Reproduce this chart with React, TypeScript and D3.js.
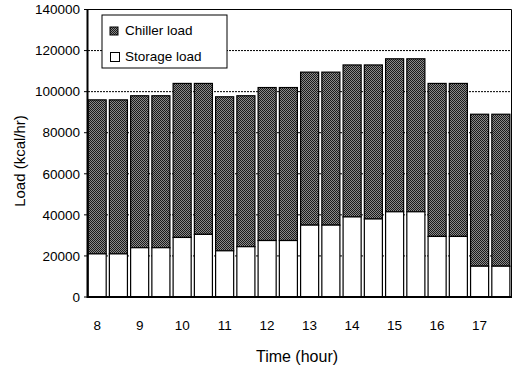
import React from "react";
import * as d3 from "d3";

const hours = ["8", "", "9", "", "10", "", "11", "", "12", "", "13", "", "14", "", "15", "", "16", "", "17", ""];
const totalLoad = [96000, 96000, 98000, 98000, 104000, 104000, 97500, 98000, 102000, 102000, 109500, 109500, 113000, 113000, 116000, 116000, 104000, 104000, 89000, 89000];
const storageLoad = [21000, 21000, 24000, 24000, 29000, 30500, 22500, 24500, 27500, 27500, 35000, 35000, 39000, 38000, 41500, 41500, 29500, 29500, 15000, 15000];
const yTicks = [0, 20000, 40000, 60000, 80000, 100000, 120000, 140000];

const W = 513;
const H = 368;
const left = 88;
const right = 511.5;
const top = 9.5;
const bottom = 297;
const font = "Liberation Sans, Arial, sans-serif";

export default function App() {
  const idx = hours.map((_, i) => i);
  const x = d3.scaleBand<number>().domain(idx).range([86, 512]).paddingInner(0.15).paddingOuter(0.1);
  const y = d3.scaleLinear().domain([0, 140000]).range([bottom, top]);
  const bw = x.bandwidth();
  return (
    <svg width={W} height={H} style={{ position: "absolute", left: 0, top: 0 }}>
      <defs>
        <pattern id="stip" width="2" height="2" patternUnits="userSpaceOnUse">
          <rect width="2" height="2" fill="#8a8a8a" />
          <rect x="0" y="0" width="1" height="1" fill="#1a1a1a" />
          <rect x="1" y="1" width="1" height="1" fill="#1a1a1a" />
        </pattern>
      </defs>
      <rect x={0} y={0} width={W} height={H} fill="#fff" />
      {/* gridlines */}
      {yTicks.filter((t) => t > 0 && t < 140000).map((t) => (
        <line key={t} x1={left} x2={right} y1={y(t)} y2={y(t)} stroke="#000" strokeWidth={1} strokeDasharray="2,1" />
      ))}
      {/* frame */}
      <line x1={left} x2={right} y1={top} y2={top} stroke="#000" strokeWidth={1} />
      <line x1={right} x2={right} y1={top} y2={bottom} stroke="#000" strokeWidth={1} />
      {/* bars */}
      {idx.map((i) => (
        <g key={i}>
          <rect x={x(i)} y={y(totalLoad[i])} width={bw} height={y(storageLoad[i]) - y(totalLoad[i])} fill="url(#stip)" stroke="#000" strokeWidth={1.2} />
          <rect x={x(i)} y={y(storageLoad[i])} width={bw} height={bottom - y(storageLoad[i])} fill="#fff" stroke="#000" strokeWidth={1.2} />
        </g>
      ))}
      {/* axes */}
      <line x1={left - 0.5} x2={left - 0.5} y1={top} y2={bottom + 1} stroke="#000" strokeWidth={2} />
      <line x1={left - 1} x2={right + 0.5} y1={bottom} y2={bottom} stroke="#000" strokeWidth={2} />
      {yTicks.map((t) => (
        <g key={t}>
          <line x1={left - 4} x2={left} y1={y(t)} y2={y(t)} stroke="#000" strokeWidth={1} />
          <text x={80} y={y(t)} dy="0.35em" textAnchor="end" fontFamily={font} fontSize={13.5} fill="#000">
            {t}
          </text>
        </g>
      ))}
      {idx.map((i) =>
        hours[i] ? (
          <text key={i} x={(x(i) as number) + bw / 2} y={330} textAnchor="middle" fontFamily={font} fontSize={13.5} fill="#000">
            {hours[i]}
          </text>
        ) : null
      )}
      <text x={297} y={362} textAnchor="middle" fontFamily={font} fontSize={16} fill="#000">
        Time (hour)
      </text>
      <text transform={`translate(24.5,161) rotate(-90)`} textAnchor="middle" fontFamily={font} fontSize={15} fill="#000">
        Load (kcal/hr)
      </text>
      {/* legend */}
      <rect x={102} y={15} width={125} height={53} fill="#fff" stroke="#000" strokeWidth={1} />
      <rect x={110} y={27} width={8} height={8} fill="url(#stip)" stroke="#000" strokeWidth={1} />
      <text x={125} y={35} fontFamily={font} fontSize={13.5} fill="#000">Chiller load</text>
      <rect x={110.5} y={52.5} width={9} height={9} fill="#fff" stroke="#000" strokeWidth={1} />
      <text x={125} y={61} fontFamily={font} fontSize={13.5} fill="#000">Storage load</text>
    </svg>
  );
}
